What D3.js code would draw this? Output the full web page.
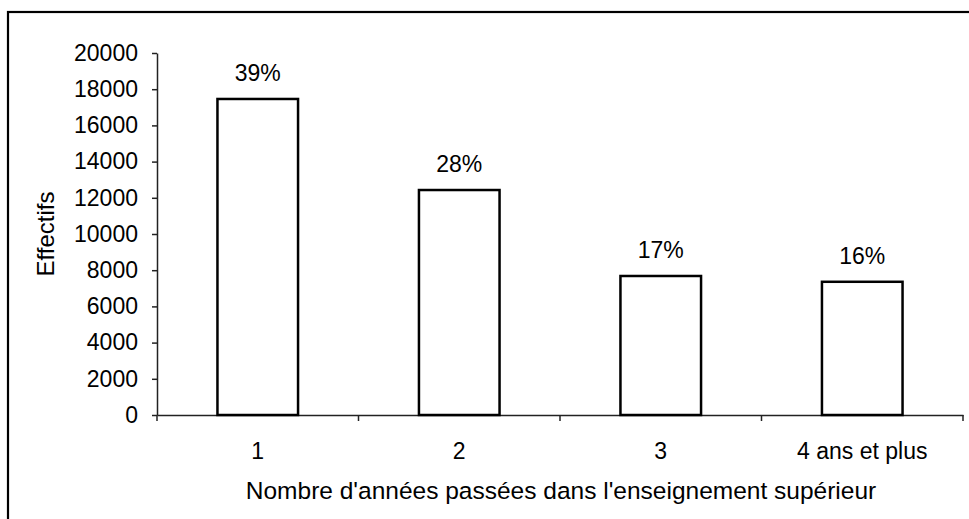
<!DOCTYPE html>
<html>
<head>
<meta charset="utf-8">
<script src="https://cdn.jsdelivr.net/npm/d3@7"></script>
<style>
    body { margin: 0; background: #fff; }
    svg { display: block; font-family: 'Liberation Sans', Arial, sans-serif; }
</style>
</head>
<body>
<svg id="chart" width="969" height="519"></svg>
<script>
const categories = ['1', '2', '3', '4 ans et plus'];
const effectifs = [17460, 12430, 7680, 7360];
const percentLabels = ['39%', '28%', '17%', '16%'];
const yTicks = [0, 2000, 4000, 6000, 8000, 10000, 12000, 14000, 16000, 18000, 20000];

const margin = { top: 53, right: 6, left: 157, bottom: 104 };
const width = 969 - margin.left - margin.right;
const height = 519 - margin.top - margin.bottom;

const svg = d3.select('#chart');

// outer frame, runs off the right and bottom edges
svg.append('rect')
    .attr('x', 8)
    .attr('y', 12)
    .attr('width', 980)
    .attr('height', 530)
    .attr('fill', 'none')
    .attr('stroke', '#000')
    .attr('stroke-width', 2.2);

const g = svg.append('g')
    .attr('transform', `translate(${margin.left}, ${margin.top})`);

const xScale = d3.scaleBand()
    .domain(categories)
    .range([0, width])
    .paddingInner(0.6)
    .paddingOuter(0.3);

const yScale = d3.scaleLinear()
    .domain([0, 20000])
    .range([height, 0]);

const yAxis = d3.axisLeft(yScale)
    .tickValues(yTicks)
    .tickFormat(d3.format('d'))
    .tickSize(5)
    .tickSizeOuter(0)
    .tickPadding(14);

const yG = g.append('g')
    .attr('class', 'yAxis')
    .call(yAxis);

const xAxis = d3.axisBottom(xScale)
    .tickSize(0)
    .tickSizeOuter(0)
    .tickPadding(28);

const xG = g.append('g')
    .attr('class', 'xAxis')
    .attr('transform', `translate(0,${height})`)
    .call(xAxis);

// tick marks between categories
const boundaries = d3.range(categories.length + 1).map(i => i * xScale.step());
xG.selectAll('.sep')
    .data(boundaries)
    .enter()
    .append('line')
    .attr('class', 'sep')
    .attr('x1', d => d)
    .attr('x2', d => d)
    .attr('y1', 0)
    .attr('y2', 6)
    .attr('stroke', '#222')
    .attr('stroke-width', 1.5);

[yG, xG].forEach(ax => {
    ax.selectAll('.domain').attr('stroke', '#222').attr('stroke-width', 1.5);
    ax.selectAll('.tick line').attr('stroke', '#222').attr('stroke-width', 1.5);
    ax.selectAll('.tick text')
        .attr('fill', '#000')
        .style('font-size', '23px')
        .style('font-family', "'Liberation Sans', Arial, sans-serif");
});

// bars
g.selectAll('.bar')
    .data(effectifs)
    .enter()
    .append('rect')
    .attr('class', 'bar')
    .attr('x', (d, i) => xScale(categories[i]))
    .attr('y', d => yScale(d))
    .attr('width', xScale.bandwidth())
    .attr('height', d => yScale(0) - yScale(d))
    .attr('fill', '#fff')
    .attr('stroke', '#000')
    .attr('stroke-width', 2.5);

// percentage labels
g.selectAll('.pct')
    .data(effectifs)
    .enter()
    .append('text')
    .attr('class', 'pct')
    .attr('x', (d, i) => xScale(categories[i]) + xScale.bandwidth() / 2)
    .attr('y', d => yScale(d) - 18)
    .attr('text-anchor', 'middle')
    .style('font-size', '23px')
    .text((d, i) => percentLabels[i]);

// axis titles
svg.append('text')
    .attr('x', 561)
    .attr('y', 499)
    .attr('text-anchor', 'middle')
    .style('font-size', '24.5px')
    .text("Nombre d'années passées dans l'enseignement supérieur");

svg.append('text')
    .attr('transform', 'translate(54, 234) rotate(-90)')
    .attr('text-anchor', 'middle')
    .style('font-size', '24px')
    .text('Effectifs');
</script>
</body>
</html>
